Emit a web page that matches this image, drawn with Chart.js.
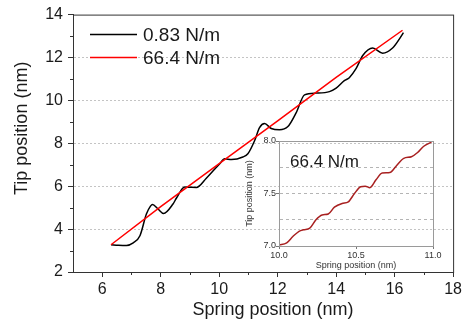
<!DOCTYPE html>
<html>
<head>
<meta charset="utf-8">
<script src="https://cdn.jsdelivr.net/npm/chart.js@4/dist/chart.umd.min.js"></script>
<style>
  html, body { margin: 0; padding: 0; background: #fff; }
  #wrap { position: relative; width: 465px; height: 323px; }
  #main { position: absolute; left: 0; top: 0; }
  #inset { position: absolute; left: 230px; top: 132px; }
</style>
</head>
<body>
<div id="wrap">
  <canvas id="main" width="465" height="323"></canvas>
  <canvas id="inset" width="215" height="148"></canvas>
</div>
<script>
// soft cantilever, 0.83 N/m
const softX = [6.30, 6.55, 6.83, 7.06, 7.29, 7.51, 7.65, 7.72, 7.90, 8.10, 8.42, 8.54, 8.82, 9.00, 9.22, 9.56,
  10.02, 10.19, 10.42, 10.81, 10.98, 11.21, 11.38, 11.55, 11.78, 12.06, 12.35, 12.63, 12.92, 13.32, 13.77,
  14.00, 14.28, 14.45, 14.68, 14.91, 15.25, 15.59, 15.93, 16.16, 16.30];
const softY = [3.27, 3.25, 3.24, 3.36, 3.69, 4.70, 5.07, 5.15, 4.95, 4.73, 5.17, 5.45, 5.96, 5.95, 5.94, 6.37,
  7.05, 7.28, 7.24, 7.36, 7.51, 8.12, 8.73, 8.92, 8.69, 8.63, 8.78, 9.42, 10.26, 10.34, 10.41,
  10.57, 10.92, 11.06, 11.48, 12.09, 12.44, 12.20, 12.44, 12.86, 13.16];

// stiff cantilever, 66.4 N/m
const stiffX = [6.30, 8.00, 10.00, 12.00, 14.00, 16.27];
const stiffY = [3.27, 5.05, 7.05, 9.05, 11.07, 13.27];

// inset: stiff cantilever between 10 and 11 nm
const insetX = [10.00, 10.05, 10.09, 10.13, 10.16, 10.20, 10.24, 10.28, 10.32, 10.36, 10.41, 10.45, 10.49,
  10.53, 10.56, 10.59, 10.63, 10.67, 10.72, 10.76, 10.81, 10.86, 10.90, 10.94, 10.99];
const insetY = [7.01, 7.03, 7.09, 7.14, 7.155, 7.17, 7.25, 7.295, 7.305, 7.37, 7.405, 7.42, 7.50,
  7.565, 7.57, 7.555, 7.63, 7.695, 7.70, 7.76, 7.835, 7.85, 7.89, 7.95, 7.99];

const seriesLabels = ['0.83 N/m', '66.4 N/m'];
const xTicks = [6, 8, 10, 12, 14, 16, 18];
const yTicks = [2, 4, 6, 8, 10, 12, 14];
const insetXTicks = [10.0, 10.5, 11.0];
const insetYTicks = [7.0, 7.5, 8.0];
const insetYGrid = [7.25, 7.5, 7.75];

Chart.defaults.font.family = "'Liberation Sans', Arial, sans-serif";
Chart.defaults.color = '#1a1a1a';

const pts = (xs, ys) => xs.map((x, i) => ({ x: x, y: ys[i] }));
const mids = arr => arr.slice(1).map((v, i) => (v + arr[i]) / 2);

// box, minor ticks, legend and axis titles for the big plot
const mainDecor = {
  id: 'mainDecor',
  afterDraw(chart) {
    const { ctx, chartArea: a, scales: { x, y } } = chart;
    ctx.save();
    ctx.strokeStyle = '#333';
    ctx.lineWidth = 1;
    ctx.strokeRect(a.left + 0.5, a.top + 0.5, a.right - a.left, a.bottom - a.top);

    ctx.beginPath();
    mids(xTicks).forEach(v => {
      const px = Math.round(x.getPixelForValue(v)) + 0.5;
      ctx.moveTo(px, a.bottom); ctx.lineTo(px, a.bottom + 3);
    });
    mids(yTicks).forEach(v => {
      const py = Math.round(y.getPixelForValue(v)) + 0.5;
      ctx.moveTo(a.left, py); ctx.lineTo(a.left - 3, py);
    });
    ctx.stroke();

    // legend
    ctx.font = "19px 'Liberation Sans', Arial, sans-serif";
    ctx.textBaseline = 'middle';
    ctx.fillStyle = '#1a1a1a';
    chart.data.datasets.forEach((ds, i) => {
      const ly = a.top + 20 + i * 23;
      ctx.strokeStyle = ds.borderColor;
      ctx.lineWidth = 1.5;
      ctx.beginPath();
      ctx.moveTo(a.left + 17, ly); ctx.lineTo(a.left + 64, ly);
      ctx.stroke();
      ctx.fillText(ds.label, a.left + 70, ly + 1);
    });

    // axis titles
    ctx.font = "18px 'Liberation Sans', Arial, sans-serif";
    ctx.textAlign = 'center';
    ctx.textBaseline = 'alphabetic';
    ctx.fillText('Spring position (nm)', (a.left + a.right) / 2 + 10, 315);
    ctx.translate(27, (a.top + a.bottom) / 2 - 15);
    ctx.rotate(-Math.PI / 2);
    ctx.fillText('Tip position (nm)', 0, 0);
    ctx.restore();
  }
};

new Chart(document.getElementById('main'), {
  type: 'line',
  data: {
    datasets: [
      { label: seriesLabels[0], data: pts(softX, softY), borderColor: '#000000', borderWidth: 1.5,
        pointRadius: 0, cubicInterpolationMode: 'monotone', order: 1 },
      { label: seriesLabels[1], data: pts(stiffX, stiffY), borderColor: '#ff0000', borderWidth: 1.5,
        pointRadius: 0, order: 0 }
    ]
  },
  options: {
    responsive: false,
    animation: false,
    layout: { padding: { top: 10, right: 11, left: 0, bottom: 0 } },
    plugins: { legend: { display: false }, tooltip: { enabled: false } },
    scales: {
      x: {
        type: 'linear', min: 5, max: 18,
        afterBuildTicks: s => { s.ticks = xTicks.map(v => ({ value: v })); },
        afterFit: s => { s.height = 51; },
        grid: { drawOnChartArea: false, tickLength: 5, tickColor: '#333' },
        border: { color: '#333' },
        ticks: { font: { size: 16 }, padding: 3, maxRotation: 0 }
      },
      y: {
        type: 'linear', min: 2, max: 14,
        afterBuildTicks: s => { s.ticks = yTicks.map(v => ({ value: v })); },
        afterFit: s => { s.width = 73; },
        grid: {
          color: c => (c.tick && (c.tick.value === 2 || c.tick.value === 14)) ? 'rgba(0,0,0,0)' : '#c4c4c4',
          tickColor: '#333', tickLength: 5
        },
        border: { color: '#333', dash: [2, 2] },
        ticks: { font: { size: 16 }, padding: 5 }
      }
    }
  },
  plugins: [mainDecor]
});

// frame and label of the inset
const insetDecor = {
  id: 'insetDecor',
  afterDraw(chart) {
    const { ctx, chartArea: a } = chart;
    ctx.save();
    ctx.strokeStyle = '#9a9a9a';
    ctx.lineWidth = 1;
    ctx.strokeRect(a.left + 0.5, a.top + 0.5, a.right - a.left, a.bottom - a.top);
    ctx.font = "17px 'Liberation Sans', Arial, sans-serif";
    ctx.fillStyle = '#1a1a1a';
    ctx.textBaseline = 'middle';
    ctx.fillText(chart.data.datasets[0].label, a.left + 11, a.top + 21);
    ctx.restore();
  }
};

new Chart(document.getElementById('inset'), {
  type: 'line',
  data: {
    datasets: [
      { label: seriesLabels[1], data: pts(insetX, insetY), borderColor: '#a82020', borderWidth: 1.5,
        pointRadius: 0, cubicInterpolationMode: 'monotone' }
    ]
  },
  options: {
    responsive: false,
    animation: false,
    layout: { padding: { top: 9, right: 12, left: 0, bottom: 0 } },
    plugins: { legend: { display: false }, tooltip: { enabled: false } },
    scales: {
      x: {
        type: 'linear', min: 10, max: 11,
        afterBuildTicks: s => { s.ticks = insetXTicks.map(v => ({ value: v })); },
        afterFit: s => { s.height = 34; },
        grid: { drawOnChartArea: false, tickLength: 3, tickColor: '#777' },
        border: { color: '#9a9a9a' },
        ticks: { font: { size: 9 }, color: '#333', padding: 1, maxRotation: 0, callback: v => v.toFixed(1) },
        title: { display: true, text: 'Spring position (nm)', font: { size: 9 }, color: '#333', padding: { top: 0, bottom: 9 } }
      },
      y: {
        type: 'linear', min: 7, max: 8,
        afterBuildTicks: s => {
          s.ticks = insetYTicks.concat(insetYGrid.filter(v => !insetYTicks.includes(v)))
            .sort((p, q) => p - q).map(v => ({ value: v }));
        },
        afterFit: s => { s.width = 49; },
        grid: {
          color: c => (c.tick && insetYGrid.includes(c.tick.value)) ? '#b4b4b4' : 'rgba(0,0,0,0)',
          tickColor: c => (c.tick && insetYTicks.includes(c.tick.value)) ? '#777' : 'rgba(0,0,0,0)',
          tickLength: 3
        },
        border: { color: '#9a9a9a', dash: [3, 3] },
        ticks: {
          font: { size: 9 }, color: '#333', padding: 0,
          callback: v => insetYTicks.includes(v) ? v.toFixed(1) : ''
        },
        title: { display: true, text: 'Tip position (nm)', font: { size: 9 }, color: '#333', padding: { top: 14, bottom: 0 } }
      }
    }
  },
  plugins: [insetDecor]
});
</script>
</body>
</html>
